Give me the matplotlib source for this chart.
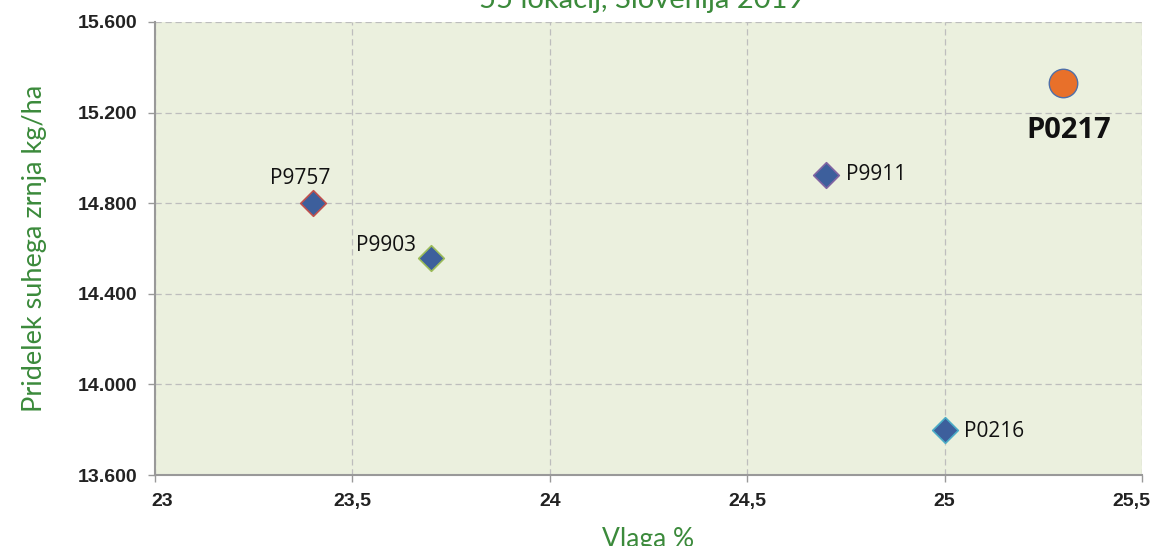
import matplotlib
matplotlib.use("Agg")
import matplotlib.pyplot as plt
import matplotlib.transforms as mtransforms

# hibridi: vlaga % in pridelek (v tisoč kg/ha)
hybrids = ['P9757', 'P9903', 'P9911', 'P0216', 'P0217']
vlaga = [23.40, 23.70, 24.70, 25.00, 25.30]
pridelek = [14.80, 14.56, 14.925, 13.80, 15.33]

green = '#3b8a3b'
plt.rcParams['font.family'] = ['Liberation Sans', 'DejaVu Sans']

fig = plt.figure(figsize=(11.57, 5.46), dpi=100)
ax = fig.add_axes([155 / 1157, 71 / 546, 987 / 1157, 453 / 546])
ax.set_facecolor('#ebf0de')

# diamonds with slightly different edge colours, like the original
edges = ['#c0504d', '#9bbb59', '#8064a2', '#4bacc6']
for i in range(4):
    ax.scatter(vlaga[i], pridelek[i], marker='D', s=170, color='#3d5f9c',
               edgecolors=edges[i], linewidths=1.2, zorder=3)
ax.scatter(vlaga[4], pridelek[4], marker='o', s=420, color='#e8702a',
           edgecolors='#4f6fa8', linewidths=1.0, zorder=3)

lab = dict(fontsize=15, family=['Open Sans', 'DejaVu Sans'], color='#111111')
ax.annotate(hybrids[0], (vlaga[0], pridelek[0]), xytext=(-9, 18),
            textcoords='offset points', ha='center', va='center', **lab)
ax.annotate(hybrids[1], (vlaga[1], pridelek[1]), xytext=(-11, 9),
            textcoords='offset points', ha='right', va='center', **lab)
ax.annotate(hybrids[2], (vlaga[2], pridelek[2]), xytext=(14, 0),
            textcoords='offset points', ha='left', va='center', **lab)
ax.annotate(hybrids[3], (vlaga[3], pridelek[3]), xytext=(14, -1),
            textcoords='offset points', ha='left', va='center', **lab)
ax.annotate(hybrids[4], (vlaga[4], pridelek[4]), xytext=(4, -34),
            textcoords='offset points', ha='center', va='center',
            fontsize=21, fontweight='bold', family=['Open Sans', 'DejaVu Sans'],
            color='#111111')

ax.set_xlim(23, 25.5)
ax.set_ylim(13.6, 15.6)
ax.set_xticks([23, 23.5, 24, 24.5, 25, 25.5])
ax.set_xticklabels(['23', '23,5', '24', '24,5', '25', '25,5'])
ax.set_yticks([13.6, 14.0, 14.4, 14.8, 15.2, 15.6])
ax.set_yticklabels(['13.600', '14.000', '14.400', '14.800', '15.200', '15.600'])
ax.tick_params(labelsize=14, colors='#222222', length=5, width=1,
               direction='out', pad=8)
for t in ax.get_xticklabels() + ax.get_yticklabels():
    t.set_fontweight('bold')
ax.tick_params(axis='both', color='#999999')

# first and last x labels pulled inside like in Excel
xl = ax.get_xticklabels()
xl[0].set_horizontalalignment('left')
xl[0].set_transform(xl[0].get_transform() +
                    mtransforms.ScaledTranslation(-4 / 100, 0, fig.dpi_scale_trans))
xl[-1].set_horizontalalignment('right')
xl[-1].set_transform(xl[-1].get_transform() +
                     mtransforms.ScaledTranslation(8 / 100, 0, fig.dpi_scale_trans))

ax.grid(True, linestyle=(0, (5, 3)), color='#bdbdbd', linewidth=0.9)
ax.set_axisbelow(True)
for s in ['top', 'right']:
    ax.spines[s].set_visible(False)
for s in ['left', 'bottom']:
    ax.spines[s].set_color('#999999')
    ax.spines[s].set_linewidth(1.5)

ax.set_xlabel('Vlaga %', fontsize=19, color=green, labelpad=12,
              family=['Lato', 'DejaVu Sans'])
ax.set_ylabel('Pridelek suhega zrnja kg/ha', fontsize=19.5, color=green,
              labelpad=22, family=['Lato', 'DejaVu Sans'])
fig.text(0.555, 1.0, '55 lokacij, Slovenija 2019', ha='center', va='center',
         fontsize=21, color=green, family=['Lato', 'DejaVu Sans'])

fig.savefig('out.png', dpi=100)
